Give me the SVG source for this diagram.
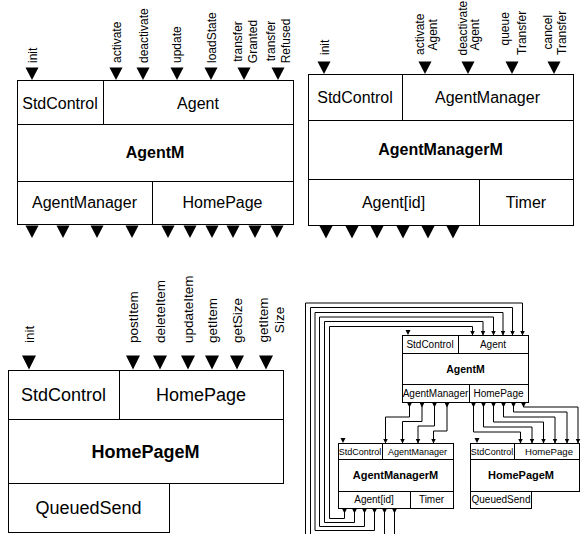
<svg xmlns="http://www.w3.org/2000/svg" width="581" height="534" viewBox="0 0 581 534">
<style>
  .bx{fill:#fff;stroke:#000;stroke-width:1}
  .ln{fill:none;stroke:#000;stroke-width:1}
  text{font-family:"Liberation Sans",Arial,Helvetica,sans-serif;fill:#000}
  .t16{font-size:16px;text-anchor:middle}
  .b16{font-size:16px;font-weight:bold;text-anchor:middle}
  .t18{font-size:18px;text-anchor:middle}
  .b18{font-size:18px;font-weight:bold;text-anchor:middle}
  .p12{font-size:12px}
  .p13{font-size:13.5px}
  .s10{font-size:10px;text-anchor:middle}
  .s9{font-size:9px;text-anchor:middle}
  .sb{font-size:11px;font-weight:bold;text-anchor:middle}
  .wire{fill:none;stroke:#000;stroke-width:1;marker-start:url(#as);marker-end:url(#ah)}
</style>
<defs>
  <path id="tri13" d="M-6.5,0H6.5L0,12.5Z"/>
  <path id="tri14" d="M-7,0H7L0,14Z"/>
  <path id="tri5" d="M-2.5,0H2.5L0,5Z"/>
  <marker id="ah" markerUnits="userSpaceOnUse" markerWidth="5" markerHeight="5" viewBox="0 0 5 5" refX="5" refY="2.5" orient="auto"><path d="M0,0L5,2.5L0,5Z"/></marker>
  <marker id="as" markerUnits="userSpaceOnUse" markerWidth="5" markerHeight="5" viewBox="0 0 5 5" refX="0" refY="2.5" orient="auto"><path d="M0,0L5,2.5L0,5Z"/></marker>
</defs>

<!-- AgentM module -->
<g id="agentM">
  <rect class="bx" x="17.5" y="80.5" width="276" height="144"/>
  <path class="ln" d="M103.5,80.5V124.5M17.5,124.5H293.5M17.5,181.5H293.5M152.5,181.5V224.5"/>
  <text class="t16" x="60" y="108.5">StdControl</text>
  <text class="t16" x="198" y="108.5">Agent</text>
  <text class="b16" x="155" y="158">AgentM</text>
  <text class="t16" x="84.5" y="208">AgentManager</text>
  <text class="t16" x="222.5" y="208">HomePage</text>
  <!-- provided interfaces -->
  <use href="#tri13" x="32" y="67.5"/>
  <use href="#tri13" x="116" y="67.5"/>
  <use href="#tri13" x="143" y="67.5"/>
  <use href="#tri13" x="177" y="67.5"/>
  <use href="#tri13" x="211" y="67.5"/>
  <use href="#tri13" x="244" y="67.5"/>
  <use href="#tri13" x="278" y="67.5"/>
  <text class="p12" transform="translate(36.5,63) rotate(-90)">init</text>
  <text class="p12" transform="translate(121,63) rotate(-90)">activate</text>
  <text class="p12" transform="translate(147.5,63) rotate(-90)">deactivate</text>
  <text class="p12" transform="translate(181,63) rotate(-90)">update</text>
  <text class="p12" transform="translate(215.5,63) rotate(-90)">loadState</text>
  <text class="p12" text-anchor="middle" transform="translate(242,41.5) rotate(-90)">transfer</text>
  <text class="p12" text-anchor="middle" transform="translate(256.5,41.5) rotate(-90)">Granted</text>
  <text class="p12" text-anchor="middle" transform="translate(275,41) rotate(-90)">transfer</text>
  <text class="p12" text-anchor="middle" transform="translate(289.5,41) rotate(-90)">Refused</text>
  <!-- used interfaces -->
  <use href="#tri13" x="32" y="225.5"/>
  <use href="#tri13" x="63" y="225.5"/>
  <use href="#tri13" x="97" y="225.5"/>
  <use href="#tri13" x="132" y="225.5"/>
  <use href="#tri13" x="168" y="225.5"/>
  <use href="#tri13" x="190" y="225.5"/>
  <use href="#tri13" x="212" y="225.5"/>
  <use href="#tri13" x="233" y="225.5"/>
  <use href="#tri13" x="255" y="225.5"/>
  <use href="#tri13" x="277" y="225.5"/>
</g>

<!-- AgentManagerM module -->
<g id="agentManagerM">
  <rect class="bx" x="308.5" y="74.5" width="265" height="151"/>
  <path class="ln" d="M402.5,74.5V120.5M308.5,120.5H573.5M308.5,179.5H573.5M479.5,179.5V225.5"/>
  <text class="t16" x="355" y="103">StdControl</text>
  <text class="t16" x="487.5" y="103">AgentManager</text>
  <text class="b16" x="440.5" y="155">AgentManagerM</text>
  <text class="t16" x="393.5" y="207.5">Agent[id]</text>
  <text class="t16" x="526" y="207.5">Timer</text>
  <use href="#tri13" x="324" y="61.5"/>
  <use href="#tri13" x="425" y="61.5"/>
  <use href="#tri13" x="468" y="61.5"/>
  <use href="#tri13" x="512" y="61.5"/>
  <use href="#tri13" x="554" y="61.5"/>
  <text class="p12" transform="translate(328.5,55) rotate(-90)">init</text>
  <text class="p12" transform="translate(424,55) rotate(-90)">activate</text>
  <text class="p12" transform="translate(436.5,50.5) rotate(-90)">Agent</text>
  <text class="p12" transform="translate(466.5,55.5) rotate(-90)">deactivate</text>
  <text class="p12" transform="translate(479,50.5) rotate(-90)">Agent</text>
  <text class="p12" transform="translate(508.5,45.5) rotate(-90)">queue</text>
  <text class="p12" transform="translate(525.5,55) rotate(-90)">Transfer</text>
  <text class="p12" transform="translate(551.5,49.5) rotate(-90)">cancel</text>
  <text class="p12" transform="translate(565.5,55) rotate(-90)">Transfer</text>
  <use href="#tri13" x="326" y="226"/>
  <use href="#tri13" x="352" y="226"/>
  <use href="#tri13" x="377" y="226"/>
  <use href="#tri13" x="403" y="226"/>
  <use href="#tri13" x="428" y="226"/>
  <use href="#tri13" x="453" y="226"/>
</g>

<!-- HomePageM module -->
<g id="homePageM">
  <rect class="bx" x="8.5" y="370.5" width="275" height="113"/>
  <path class="ln" d="M119.5,370.5V419.5M8.5,419.5H283.5"/>
  <rect class="bx" x="8.5" y="483.5" width="161" height="49"/>
  <text class="t18" x="63.5" y="401">StdControl</text>
  <text class="t18" x="201" y="401">HomePage</text>
  <text class="b18" x="145.5" y="457.5">HomePageM</text>
  <text class="t18" x="88.5" y="513.5">QueuedSend</text>
  <use href="#tri14" x="29" y="355.5"/>
  <use href="#tri14" x="133" y="355.5"/>
  <use href="#tri14" x="160" y="355.5"/>
  <use href="#tri14" x="188" y="355.5"/>
  <use href="#tri14" x="212" y="355.5"/>
  <use href="#tri14" x="237" y="355.5"/>
  <use href="#tri14" x="266" y="355.5"/>
  <text class="p13" transform="translate(34,343) rotate(-90)">init</text>
  <text class="p13" transform="translate(138,343) rotate(-90)">postItem</text>
  <text class="p13" transform="translate(165,343) rotate(-90)">deleteItem</text>
  <text class="p13" transform="translate(193,343) rotate(-90)">updateItem</text>
  <text class="p13" transform="translate(217,343) rotate(-90)">getItem</text>
  <text class="p13" transform="translate(242,343) rotate(-90)">getSize</text>
  <text class="p13" text-anchor="middle" transform="translate(267.5,320) rotate(-90)">getItem</text>
  <text class="p13" text-anchor="middle" transform="translate(283.5,320) rotate(-90)">Size</text>
</g>

<!-- wiring overview: small modules -->
<g id="agentM-small">
  <rect class="bx" x="402.5" y="335.5" width="126" height="67"/>
  <path class="ln" d="M458.5,335.5V353.5M402.5,353.5H528.5M402.5,384.5H528.5M469.5,384.5V402.5"/>
  <text class="s10" x="430" y="347.5">StdControl</text>
  <text class="s10" x="493" y="347.5">Agent</text>
  <text class="sb" x="465.5" y="372.5" style="font-size:10.5px">AgentM</text>
  <text class="s10" x="435.5" y="396.5">AgentManager</text>
  <text class="s10" x="498.5" y="396.5">HomePage</text>
  <use href="#tri5" x="408" y="330"/>
</g>

<g id="agentManagerM-small">
  <rect class="bx" x="338.5" y="443.5" width="115" height="65"/>
  <path class="ln" d="M382.5,443.5V459.5M338.5,459.5H453.5M338.5,491.5H453.5M410.5,491.5V508.5"/>
  <text class="s9" x="360" y="454.5">StdControl</text>
  <text class="s9" x="417.5" y="454.5">AgentManager</text>
  <text class="sb" x="395.5" y="479">AgentManagerM</text>
  <text class="s10" x="374" y="503">Agent[id]</text>
  <text class="s10" x="431.5" y="503">Timer</text>
  <use href="#tri5" x="343" y="438"/>
</g>

<g id="homePageM-small">
  <rect class="bx" x="470.5" y="443.5" width="109" height="48"/>
  <path class="ln" d="M514.5,443.5V459.5M470.5,459.5H579.5"/>
  <rect class="bx" x="470.5" y="491.5" width="61" height="17"/>
  <text class="s9" x="492" y="454.5">StdControl</text>
  <text class="s9" x="549" y="454.5" style="font-size:9.6px">HomePage</text>
  <text class="sb" x="521" y="479">HomePageM</text>
  <text class="s10" x="501" y="503">QueuedSend</text>
  <use href="#tri5" x="477" y="438"/>
</g>

<g id="connectors">
  <!-- AgentManagerM.Agent[id] -> AgentM.Agent -->
  <path class="wire" d="M344.5,508.5V518.5H329.5V326.5H472.5V335.5"/>
  <path class="wire" d="M354.5,508.5V522.5H324.5V321.5H483V335.5"/>
  <path class="wire" d="M364.5,508.5V526.5H319.5V317H493.5V335.5"/>
  <path class="wire" d="M374.5,508.5V530.5H315V312.5H503V335.5"/>
  <path class="wire" d="M384.5,508.5V535.5H310.5V307.5H512.5V335.5"/>
  <path class="wire" d="M394.5,508.5V539.5H305.5V303H522.5V335.5"/>
  <!-- AgentM.AgentManager -> AgentManagerM.AgentManager -->
  <path class="wire" d="M409.5,402.5V417H385.5V443.5"/>
  <path class="wire" d="M422,402.5V421.5H402.5V443.5"/>
  <path class="wire" d="M434.5,402.5V426H418V443.5"/>
  <path class="wire" d="M447,402.5V431H433.5V443.5"/>
  <!-- AgentM.HomePage -> HomePageM.HomePage -->
  <path class="wire" d="M473.5,402.5V432H520.5V443.5"/>
  <path class="wire" d="M483.5,402.5V427H532V443.5"/>
  <path class="wire" d="M493.5,402.5V422H543.5V443.5"/>
  <path class="wire" d="M503.5,402.5V417H555V443.5"/>
  <path class="wire" d="M513.5,402.5V412H567V443.5"/>
  <path class="wire" d="M523.5,402.5V407H578V443.5"/>
</g>
</svg>
